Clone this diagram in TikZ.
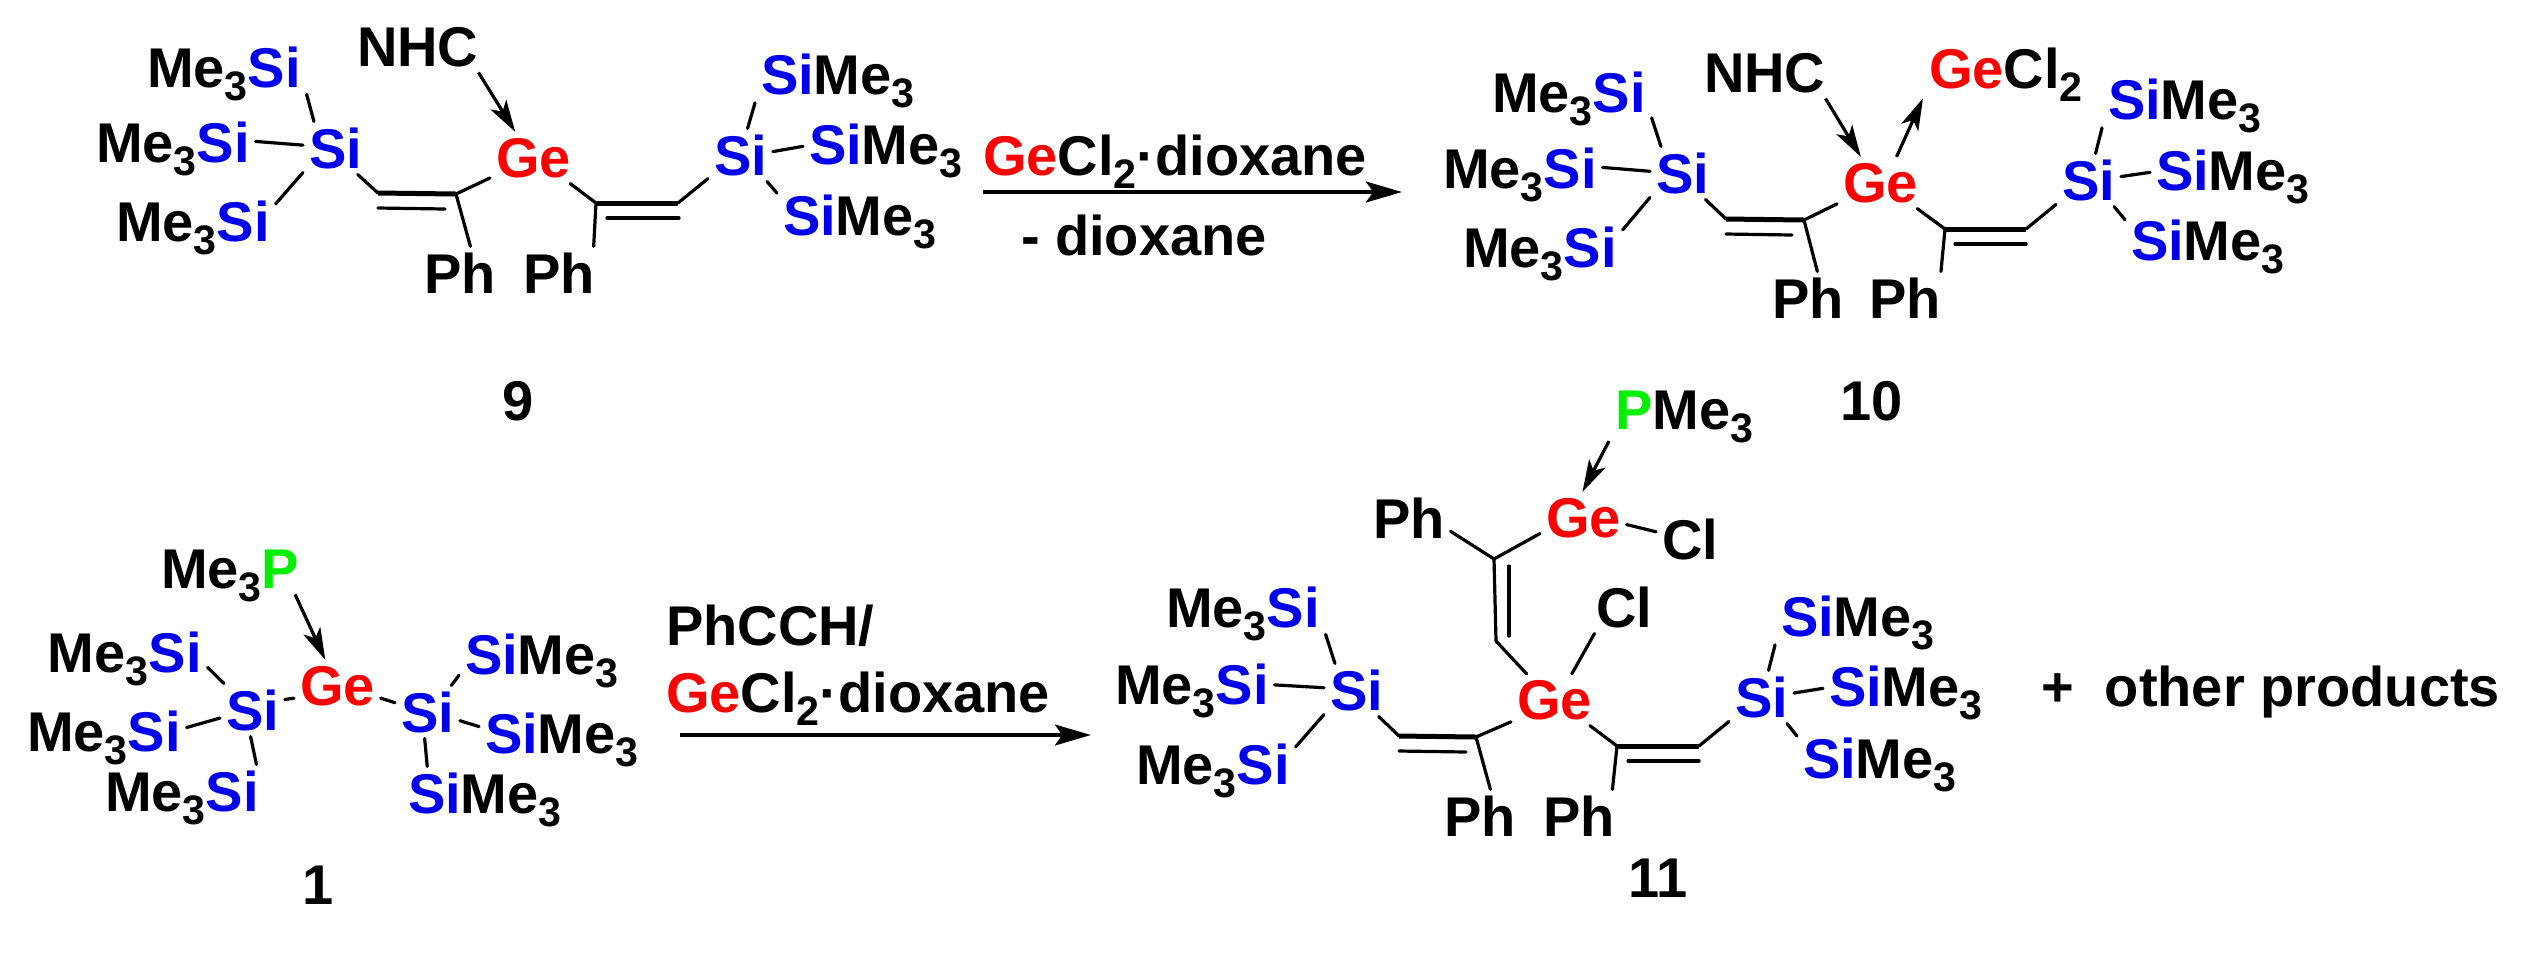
\documentclass[tikz,border=0pt]{standalone}
\usepackage{fontspec}
\setmainfont{Liberation Sans}
\usetikzlibrary{arrows.meta}
\definecolor{siblue}{RGB}{0,0,235}
\definecolor{gered}{RGB}{255,0,0}
\definecolor{pgreen}{RGB}{0,240,0}
\newcommand\sil{\textcolor{siblue}{Si}}
\newcommand\gel{\textcolor{gered}{Ge}}
\newcommand\phos{\textcolor{pgreen}{P}}
\newcommand\ssb[1]{\raisebox{-.24em}{\fontsize{10.3}{10}\selectfont\bfseries #1}}
\newcommand\msi{Me\ssb{3}\sil}
\newcommand\sme{\sil Me\ssb{3}}
\newcommand\lab[4]{\node[lab] (#1) at ({#2-6},#3) {#4};}
\tikzset{
  lab/.style={anchor=base west,inner sep=1.5pt,outer sep=0pt,font=\fontsize{14}{16}\selectfont\bfseries},
  bond/.style={line width=.8pt,line cap=round},
  dbl/.style={line width=1.25pt,line cap=butt},
  dat/.style={line width=.8pt,-{Stealth[length=8pt,width=4.6pt,inset=2pt]}},
  rxn/.style={line width=1.05pt,-{Stealth[length=9pt,width=5.2pt,inset=1.8pt]}}
}
\begin{document}
\begin{tikzpicture}[x=.25pt,y=-.25pt]
\useasboundingbox (0,0) rectangle (2528,956);
% ---- compound 9
\lab{am1}{147}{87}{\msi}
\lab{am2}{96}{162}{\msi}
\lab{am3}{116}{241}{\msi}
\lab{as1}{309}{168}{\sil}
\lab{ang}{357}{66}{NHC}
\lab{age}{496}{177}{\gel}
\lab{ap1}{424}{293}{Ph}
\lab{ap2}{523}{293}{Ph}
\lab{as2}{714}{175}{\sil}
\lab{at1}{761}{94}{\sme}
\lab{at2}{809}{164}{\sme}
\lab{at3}{783}{235}{\sme}
\lab{alab}{502}{420}{9}
\coordinate (aa) at (378,193); \coordinate (ab) at (456,194);
\coordinate (aa2) at (378,208); \coordinate (ab2) at (445,209);
\coordinate (ac) at (596,203); \coordinate (ad) at (678,203);
\coordinate (ac2) at (607,218); \coordinate (ad2) at (679,218);
\draw[bond] (am1.-14) -- (as1.129);
\draw[bond] (am2.5) -- (as1.175);
\draw[bond] (am3.16) -- (as1.217);
\draw[bond] (as1.-50) -- (aa);
\draw[dbl] (aa) -- (ab); \draw[bond] (aa2) -- (ab2);
\draw[bond] (ab) -- (age.205);
\draw[bond] (ab) -- (ap1.68);
\draw[dat] (ang.-23) -- (age.125);
\draw[bond] (age.-35) -- (ac);
\draw[dbl] (ac) -- (ad); \draw[bond] (ac2) -- (ad2);
\draw[bond] (ac) -- (ap2.37);
\draw[bond] (ad) -- (as2.216);
\draw[bond] (as2.75) -- (at1.195);
\draw[bond] (as2.6) -- (at2.177);
\draw[bond] (as2.-45) -- (at3.161);
% ---- reaction 1
\lab{ra}{983}{175}{\gel Cl\ssb{2}·dioxane}
\lab{rb}{1021}{255}{- dioxane}
\coordinate (r1s) at (983,192); \coordinate (r1e) at (1402,192);
\draw[rxn] (r1s) -- (r1e);
% ---- compound 10
\lab{bm1}{1492}{112}{\msi}
\lab{bm2}{1443}{188}{\msi}
\lab{bm3}{1463}{267}{\msi}
\lab{bs1}{1656}{193}{\sil}
\lab{bng}{1704}{92}{NHC}
\lab{bgc}{1929}{88}{\gel Cl\ssb{2}}
\lab{bge}{1843}{202}{\gel}
\lab{bp1}{1772}{318}{Ph}
\lab{bp2}{1869}{318}{Ph}
\lab{bs2}{2062}{200}{\sil}
\lab{bt1}{2108}{119}{\sme}
\lab{bt2}{2156}{190}{\sme}
\lab{bt3}{2131}{260}{\sme}
\lab{blab}{1840}{420}{10}
\coordinate (ba) at (1726,219); \coordinate (bb) at (1804,220);
\coordinate (ba2) at (1726,234); \coordinate (bb2) at (1792,235);
\coordinate (bc) at (1945,229); \coordinate (bd) at (2026,229);
\coordinate (bc2) at (1955,244); \coordinate (bd2) at (2026,244);
\draw[bond] (bm1.-13) -- (bs1.129);
\draw[bond] (bm2.5) -- (bs1.177);
\draw[bond] (bm3.16) -- (bs1.217);
\draw[bond] (bs1.-49) -- (ba);
\draw[dbl] (ba) -- (bb); \draw[bond] (ba2) -- (bb2);
\draw[bond] (bb) -- (bge.206);
\draw[bond] (bb) -- (bp1.70);
\draw[dat] (bng.-23) -- (bge.127);
\draw[dat] (bge.58) -- (bgc.196);
\draw[bond] (bge.-35) -- (bc);
\draw[dbl] (bc) -- (bd); \draw[bond] (bc2) -- (bd2);
\draw[bond] (bc) -- (bp2.36);
\draw[bond] (bd) -- (bs2.217);
\draw[bond] (bs2.75) -- (bt1.195);
\draw[bond] (bs2.6) -- (bt2.177);
\draw[bond] (bs2.-46) -- (bt3.162);
% ---- compound 1
\lab{cmp}{161}{588}{Me\ssb{3}\phos}
\lab{cm1}{48}{672}{\msi}
\lab{cm2}{27}{751}{\msi}
\lab{cm3}{105}{811}{\msi}
\lab{cs1}{226}{730}{\sil}
\lab{cge}{300}{705}{\gel}
\lab{cs2}{401}{732}{\sil}
\lab{ct1}{465}{674}{\sme}
\lab{ct2}{485}{753}{\sme}
\lab{ct3}{408}{813}{\sme}
\lab{clab}{302}{904}{1}
\draw[bond] (cm1.-6) -- (cs1.137);
\draw[bond] (cm2.7) -- (cs1.194);
\draw[bond] (cm3.24) -- (cs1.-94);
\draw[bond] (cs1.18) -- (cge.196);
\draw[bond] (cge.-16) -- (cs2.164);
\draw[bond] (cs2.48) -- (ct1.190);
\draw[bond] (cs2.-15) -- (ct2.171);
\draw[bond] (cs2.-96) -- (ct3.150);
\draw[dat] ([xshift=-2.5pt]cmp.-14) -- (cge.115);
% ---- reaction 2
\lab{rc}{666}{645}{PhCCH/}
\lab{rd}{666}{712}{\gel Cl\ssb{2}·dioxane}
\coordinate (r2s) at (680,735); \coordinate (r2e) at (1091,735);
\draw[rxn] (r2s) -- (r2e);
% ---- compound 11
\lab{dpm}{1615}{429}{\phos Me\ssb{3}}
\lab{dgt}{1546}{537}{\gel}
\lab{dct}{1662}{559}{Cl}
\lab{dpt}{1373}{538}{Ph}
\lab{dcm}{1596}{627}{Cl}
\lab{dge}{1517}{719}{\gel}
\lab{dm1}{1166}{627}{\msi}
\lab{dm2}{1115}{704}{\msi}
\lab{dm3}{1136}{784}{\msi}
\lab{ds1}{1330}{710}{\sil}
\lab{dt1}{1781}{636}{\sme}
\lab{ds2}{1735}{717}{\sil}
\lab{dt2}{1829}{706}{\sme}
\lab{dt3}{1803}{778}{\sme}
\lab{dp1}{1444}{836}{Ph}
\lab{dp2}{1543}{836}{Ph}
\lab{dlab}{1628}{897}{11}
\lab{dplus}{2041}{706}{+\ \ other products}
\coordinate (dv1) at (1494,559); \coordinate (dv2) at (1496,641);
\coordinate (dv3) at (1509,566); \coordinate (dv4) at (1509,636);
\coordinate (da) at (1399,736); \coordinate (db) at (1476,737);
\coordinate (da2) at (1399,751); \coordinate (db2) at (1466,752);
\coordinate (dc) at (1617,746); \coordinate (dd) at (1699,746);
\coordinate (dc2) at (1628,761); \coordinate (dd2) at (1699,761);
\draw[dat] (dpm.198) -- (dgt.92);
\draw[bond] (dgt.-9) -- (dct.168);
\draw[bond] (dgt.200) -- (dv1);
\draw[bond] (dpt.-18) -- (dv1);
\draw[bond] (dv1) -- (dv2); \draw[bond] (dv3) -- (dv4);
\draw[bond] (dv2) -- (dge.137);
\draw[bond] (dge.56) -- (dcm.222);
\draw[bond] (dm1.-14) -- (ds1.129);
\draw[bond] (dm2.4) -- (ds1.176);
\draw[bond] (dm3.16) -- (ds1.217);
\draw[bond] (ds1.-50) -- (da);
\draw[dbl] (da) -- (db); \draw[bond] (da2) -- (db2);
\draw[bond] (db) -- (dge.207);
\draw[bond] (db) -- (dp1.68);
\draw[bond] (dge.-36) -- (dc);
\draw[dbl] (dc) -- (dd); \draw[bond] (dc2) -- (dd2);
\draw[bond] (dc) -- (dp2.38);
\draw[bond] (dd) -- (ds2.217);
\draw[bond] (ds2.75) -- (dt1.195);
\draw[bond] (ds2.7) -- (dt2.177);
\draw[bond] (ds2.-46) -- (dt3.161);
\end{tikzpicture}
\end{document}
